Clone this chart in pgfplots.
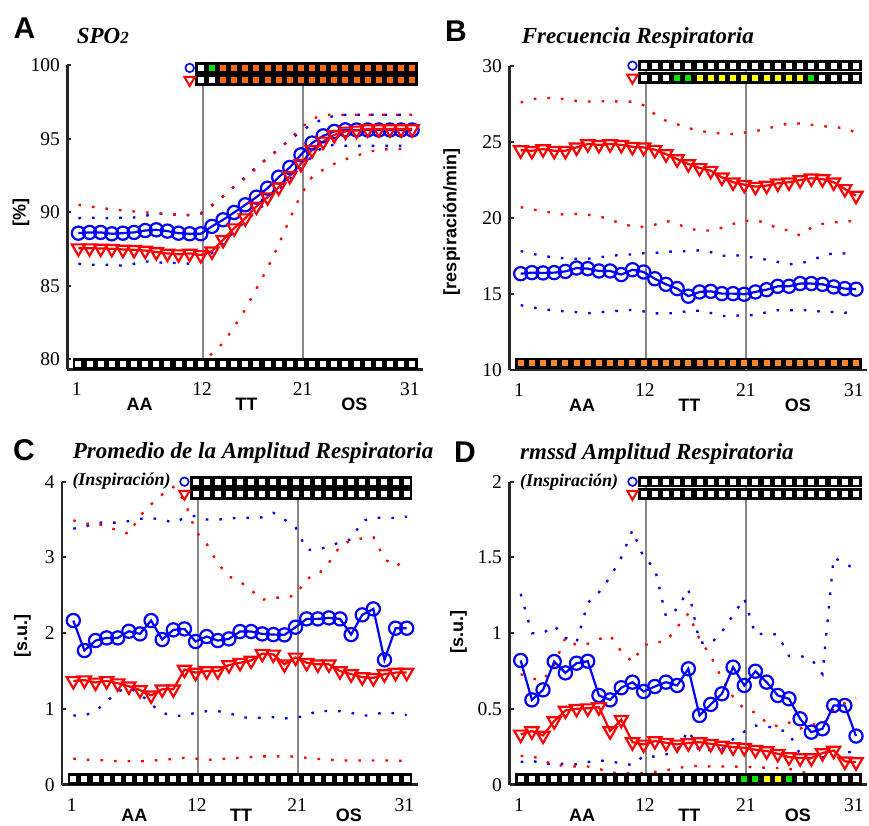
\documentclass[border=0pt]{standalone}
\usepackage{fontspec}
\setmainfont{Liberation Serif}
\newfontfamily\lsans{Liberation Sans}
\usepackage{pgfplots}
\usepackage{pgfplotstable}
\pgfplotsset{compat=1.18}
\definecolor{orng}{RGB}{255,105,10}
\definecolor{orng2}{RGB}{250,135,45}
\definecolor{grn}{RGB}{0,230,0}
\definecolor{yel}{RGB}{255,255,0}
\definecolor{axc}{RGB}{38,38,38}
\definecolor{vgray}{RGB}{135,135,135}

\pgfplotstableread{
x bm bu bl rm ru rl
1 88.58 89.60 86.50 87.56 90.51 79.55
2 88.63 89.64 86.43 87.56 90.40 79.55
3 88.63 89.60 86.43 87.54 90.28 79.55
4 88.54 89.60 86.43 87.52 90.22 79.55
5 88.58 89.64 86.36 87.47 90.12 79.55
6 88.63 89.65 86.50 87.45 90.06 79.55
7 88.76 89.76 86.66 87.40 89.99 79.55
8 88.81 89.90 86.60 87.30 89.94 79.55
9 88.72 89.90 86.55 87.20 89.90 79.55
10 88.58 89.83 86.55 87.15 89.80 79.55
11 88.54 89.80 86.50 87.20 89.83 79.55
12 88.54 89.90 86.66 87.10 89.94 79.60
13 89.04 90.50 87.22 87.35 90.44 80.40
14 89.49 91.08 87.90 88.13 91.08 81.10
15 89.99 91.76 88.70 88.92 91.76 82.20
16 90.51 92.40 89.38 89.60 92.32 83.40
17 91.03 93.07 90.06 90.40 93.00 84.80
18 91.64 93.70 90.74 91.03 93.70 86.20
19 92.39 94.30 91.53 91.70 94.25 87.80
20 93.05 94.93 92.26 92.48 94.98 89.55
21 93.91 95.50 93.00 93.30 95.73 91.20
22 94.71 96.00 93.80 94.25 96.34 92.40
23 95.20 96.34 94.48 94.82 96.63 92.90
24 95.50 96.56 94.59 95.27 96.63 93.30
25 95.61 96.63 94.52 95.50 96.63 93.60
26 95.60 96.63 94.52 95.57 96.63 93.85
27 95.60 96.63 94.52 95.66 96.63 94.10
28 95.60 96.63 94.52 95.66 96.63 94.25
29 95.60 96.63 94.52 95.66 96.63 94.30
30 95.60 96.63 94.52 95.66 96.63 94.30
31 95.60 96.63 94.52 95.66 96.63 94.37
}\dataA

\pgfplotstableread{
x bm bu bl rm ru rl
1 16.33 17.82 14.26 24.45 27.58 20.70
2 16.40 17.64 14.12 24.41 27.80 20.55
3 16.38 17.50 14.00 24.52 27.88 20.45
4 16.40 17.40 13.92 24.41 27.87 20.30
5 16.48 17.33 13.85 24.41 27.80 20.20
6 16.70 17.31 13.80 24.63 27.69 20.26
7 16.66 17.31 13.73 24.85 27.64 20.20
8 16.51 17.40 13.80 24.80 27.66 20.10
9 16.51 17.50 13.85 24.85 27.67 19.90
10 16.27 17.56 13.90 24.80 27.64 19.60
11 16.59 17.60 13.95 24.67 27.64 19.45
12 16.44 17.68 13.85 24.63 27.40 19.40
13 16.00 17.70 13.72 24.48 26.81 19.55
14 15.63 17.75 13.73 24.19 26.38 19.80
15 15.35 17.82 13.73 23.86 26.15 19.60
16 14.85 17.80 13.90 23.54 25.90 19.30
17 15.13 17.87 13.90 23.28 25.72 19.17
18 15.17 17.75 13.75 23.10 25.60 19.17
19 15.02 17.50 13.55 22.66 25.54 19.35
20 15.02 17.55 13.55 22.34 25.50 19.60
21 14.98 17.50 13.62 22.18 25.60 19.80
22 15.13 17.35 13.60 22.05 25.70 19.85
23 15.28 17.25 13.80 22.12 25.85 19.65
24 15.50 17.10 13.93 22.27 26.05 19.30
25 15.50 16.95 13.93 22.34 26.20 19.17
26 15.68 17.00 13.92 22.49 26.20 18.84
27 15.68 17.20 13.95 22.60 26.12 19.35
28 15.63 17.50 13.80 22.55 26.03 19.60
29 15.46 17.68 13.82 22.34 25.96 19.70
30 15.35 17.66 13.76 21.90 25.90 19.75
31 15.31 17.60 13.85 21.46 25.60 19.80
}\dataB

\pgfplotstableread{
x bm bu bl rm ru rl
1 2.167 3.38 0.914 1.37 3.49 0.343
2 1.771 3.40 0.914 1.38 3.44 0.330
3 1.903 3.46 0.970 1.35 3.46 0.325
4 1.938 3.46 1.100 1.37 3.40 0.320
5 1.938 3.46 1.230 1.34 3.36 0.310
6 2.026 3.48 1.280 1.30 3.31 0.310
7 1.991 3.51 1.200 1.25 3.55 0.310
8 2.167 3.52 1.060 1.18 3.70 0.315
9 1.916 3.50 0.950 1.26 3.83 0.330
10 2.044 3.46 0.910 1.26 3.93 0.340
11 2.057 3.52 0.910 1.52 3.75 0.355
12 1.890 3.55 0.950 1.48 3.35 0.345
13 1.956 3.50 0.970 1.50 3.18 0.330
14 1.903 3.50 0.970 1.50 2.92 0.330
15 1.925 3.51 0.950 1.58 2.75 0.350
16 2.022 3.53 0.890 1.61 2.68 0.355
17 2.022 3.52 0.885 1.64 2.57 0.365
18 1.991 3.53 0.885 1.73 2.44 0.374
19 1.982 3.59 0.890 1.72 2.47 0.374
20 1.978 3.50 0.875 1.59 2.47 0.374
21 2.079 3.40 0.885 1.68 2.50 0.370
22 2.189 3.10 0.910 1.61 2.72 0.355
23 2.189 3.10 0.980 1.59 2.77 0.340
24 2.202 3.15 0.970 1.59 2.93 0.330
25 2.189 3.20 0.970 1.50 3.15 0.320
26 1.982 3.24 0.950 1.46 3.23 0.320
27 2.242 3.48 0.910 1.42 3.25 0.320
28 2.321 3.53 0.920 1.41 3.27 0.320
29 1.648 3.52 0.960 1.46 2.98 0.320
30 2.066 3.52 0.940 1.48 2.88 0.320
31 2.066 3.54 0.920 1.48 2.98 0.310
}\dataC

\pgfplotstableread{
x bm bu bl rm ru rl
1 0.820 1.26 0.150 0.332 0.73 0.19
2 0.560 1.00 0.160 0.354 0.70 0.19
3 0.626 1.00 0.135 0.325 0.69 0.16
4 0.813 1.05 0.140 0.420 0.79 0.13
5 0.738 0.97 0.138 0.490 0.97 0.125
6 0.802 0.94 0.135 0.501 0.92 0.12
7 0.815 1.20 0.150 0.505 0.93 0.12
8 0.589 1.27 0.160 0.512 0.96 0.105
9 0.560 1.37 0.155 0.354 0.985 0.08
10 0.640 1.50 0.140 0.429 0.88 0.077
11 0.677 1.68 0.130 0.281 0.81 0.077
12 0.615 1.50 0.190 0.266 0.92 0.077
13 0.648 1.43 0.185 0.288 0.94 0.085
14 0.677 1.11 0.200 0.277 0.945 0.095
15 0.655 1.16 0.230 0.266 1.04 0.11
16 0.765 1.29 0.360 0.275 1.13 0.12
17 0.457 0.94 0.220 0.281 0.96 0.125
18 0.530 0.93 0.230 0.270 0.85 0.12
19 0.600 1.01 0.235 0.259 0.70 0.12
20 0.776 1.12 0.300 0.248 0.58 0.12
21 0.655 1.23 0.350 0.244 0.50 0.118
22 0.749 0.99 0.390 0.231 0.475 0.115
23 0.677 1.00 0.385 0.222 0.41 0.112
24 0.589 0.99 0.370 0.204 0.385 0.11
25 0.567 0.85 0.340 0.182 0.41 0.105
26 0.435 0.85 0.200 0.176 0.37 0.09
27 0.347 0.83 0.170 0.176 0.40 0.065
28 0.369 0.73 0.180 0.209 0.39 0.055
29 0.523 1.50 0.200 0.226 0.50 0.05
30 0.523 1.46 0.210 0.154 0.54 0.05
31 0.321 1.42 0.222 0.149 0.57 0.06
}\dataD

\pgfplotsset{
  panel/.style={
    scale only axis, clip=false,
    xmin=0, xmax=32,
    axis x line*=bottom, axis y line*=left,
    axis line style={-, draw=axc, line width=2.5pt},
    xtick={0.85,12.12,21.15,30.8}, xticklabels={1,12,21,31},
    xtick style={draw=none},
    tick align=inside, major tick length=4pt,
    ytick style={draw=axc, line width=2pt},
    tick label style={font=\fontsize{19.5}{20}\selectfont},
    xticklabel style={yshift=-10pt},
    yticklabel style={xshift=-4pt},
    /pgf/number format/assume math mode=true,
  },
  bdot/.style={blue, line width=2.3pt, dash pattern=on 2.6pt off 11pt, no markers},
  rdot/.style={red, line width=2.3pt, dash pattern=on 2.6pt off 11pt, no markers},
  bmean/.style={blue, line width=2.2pt, mark=o, mark size=6.6pt, mark options={solid}},
  rmean/.style={red, line width=2.2pt, mark=triangle, mark size=7.6pt, mark options={solid, rotate=180}},
  sq/.style={only marks, mark=square*, mark size=4.4pt, mark options={solid, draw=black, line width=2.8pt, fill=#1}},
  vline/.style={vgray, line width=2pt, no markers},
  legc/.style={only marks, blue, mark=o, mark size=4.3pt, line width=1.6pt},
  legt/.style={only marks, red, mark=triangle, mark size=6pt, line width=2pt, mark options={rotate=180}},
}
\newcommand{\xlab}[2]{%
  \node[inner sep=0pt, font=\lsans\bfseries\fontsize{18}{18}\selectfont] at (axis cs:6.5,#1) [yshift=-#2] {AA};
  \node[inner sep=0pt, font=\lsans\bfseries\fontsize{18}{18}\selectfont] at (axis cs:16.1,#1) [yshift=-#2] {TT};
  \node[inner sep=0pt, font=\lsans\bfseries\fontsize{18}{18}\selectfont] at (axis cs:25.8,#1) [yshift=-#2] {OS};
}

\begin{document}
\begin{tikzpicture}[x=1pt,y=1pt]
\path[use as bounding box] (0,0) rectangle (869,825);

% ---------------- A ----------------
\begin{axis}[panel, at={(67.3pt,455.7pt)}, anchor=south west,
  width=356pt, height=304pt, ymin=79.32, ymax=100,
  ytick={80,85,90,95,100}]
\addplot[vline] coordinates {(12.18,79.32) (12.18,100)};
\addplot[vline] coordinates {(21.17,79.32) (21.17,100)};
\addplot[bdot] table[x=x,y=bu] {\dataA};
\addplot[bdot] table[x=x,y=bl] {\dataA};
\addplot[rdot] table[x=x,y=ru] {\dataA};
\addplot[rdot] table[x=x,y=rl] {\dataA};
\addplot[bmean] table[x=x,y=bm] {\dataA};
\addplot[rmean] table[x=x,y=rm] {\dataA};
\addplot[sq=white] coordinates {(12,99.82)};
\addplot[sq=grn] coordinates {(13,99.82)};
\addplot[sq=orng] coordinates {(14,99.82)(15,99.82)(16,99.82)(17,99.82)(18,99.82)(19,99.82)(20,99.82)(21,99.82)(22,99.82)(23,99.82)(24,99.82)(25,99.82)(26,99.82)(27,99.82)(28,99.82)(29,99.82)(30,99.82)(31,99.82)};
\addplot[sq=white] coordinates {(12,99.0)(13,99.0)};
\addplot[sq=orng] coordinates {(14,99.0)(15,99.0)(16,99.0)(17,99.0)(18,99.0)(19,99.0)(20,99.0)(21,99.0)(22,99.0)(23,99.0)(24,99.0)(25,99.0)(26,99.0)(27,99.0)(28,99.0)(29,99.0)(30,99.0)(31,99.0)};
\addplot[sq=white] coordinates {(1,79.69)(2,79.69)(3,79.69)(4,79.69)(5,79.69)(6,79.69)(7,79.69)(8,79.69)(9,79.69)(10,79.69)(11,79.69)(12,79.69)(13,79.69)(14,79.69)(15,79.69)(16,79.69)(17,79.69)(18,79.69)(19,79.69)(20,79.69)(21,79.69)(22,79.69)(23,79.69)(24,79.69)(25,79.69)(26,79.69)(27,79.69)(28,79.69)(29,79.69)(30,79.69)(31,79.69)};
\addplot[legc] coordinates {(11,99.82)};
\addplot[legt] coordinates {(11,99.0)};
\xlab{79.32}{35pt}
\end{axis}

% ---------------- B ----------------
\begin{axis}[panel, at={(509.5pt,455pt)}, anchor=south west,
  width=357.7pt, height=304.3pt, ymin=10, ymax=30,
  ytick={10,15,20,25,30}]
\addplot[vline] coordinates {(12.18,10) (12.18,30)};
\addplot[vline] coordinates {(21.17,10) (21.17,30)};
\addplot[bdot] table[x=x,y=bu] {\dataB};
\addplot[bdot] table[x=x,y=bl] {\dataB};
\addplot[rdot] table[x=x,y=ru] {\dataB};
\addplot[rdot] table[x=x,y=rl] {\dataB};
\addplot[bmean] table[x=x,y=bm] {\dataB};
\addplot[rmean] table[x=x,y=rm] {\dataB};
\addplot[sq=white] coordinates {(12,30)(13,30)(14,30)(15,30)(16,30)(17,30)(18,30)(19,30)(20,30)(21,30)(22,30)(23,30)(24,30)(25,30)(26,30)(27,30)(28,30)(29,30)(30,30)(31,30)};
\addplot[sq=white] coordinates {(12,29.21)(13,29.21)(14,29.21)(28,29.21)(29,29.21)(30,29.21)(31,29.21)};
\addplot[sq=grn] coordinates {(15,29.21)(16,29.21)(27,29.21)};
\addplot[sq=yel] coordinates {(17,29.21)(18,29.21)(19,29.21)(20,29.21)(21,29.21)(22,29.21)(23,29.21)(24,29.21)(25,29.21)(26,29.21)};
\addplot[sq=orng2] coordinates {(1,10.44)(2,10.44)(3,10.44)(4,10.44)(5,10.44)(6,10.44)(7,10.44)(8,10.44)(9,10.44)(10,10.44)(11,10.44)(12,10.44)(13,10.44)(14,10.44)(15,10.44)(16,10.44)(17,10.44)(18,10.44)(19,10.44)(20,10.44)(21,10.44)(22,10.44)(23,10.44)(24,10.44)(25,10.44)(26,10.44)(27,10.44)(28,10.44)(29,10.44)(30,10.44)(31,10.44)};
\addplot[legc] coordinates {(11,30)};
\addplot[legt] coordinates {(11,29.21)};
\xlab{10}{35pt}
\end{axis}

% ---------------- C ----------------
\begin{axis}[panel, at={(62.2pt,40.3pt)}, anchor=south west,
  width=355.6pt, height=303pt, ymin=0, ymax=4,
  ytick={0,1,2,3,4}]
\addplot[vline] coordinates {(12.2,0) (12.2,4)};
\addplot[vline] coordinates {(21.2,0) (21.2,4)};
\addplot[bdot] table[x=x,y=bu] {\dataC};
\addplot[bdot] table[x=x,y=bl] {\dataC};
\addplot[rdot] table[x=x,y=ru] {\dataC};
\addplot[rdot] table[x=x,y=rl] {\dataC};
\addplot[bmean] table[x=x,y=bm] {\dataC};
\addplot[rmean] table[x=x,y=rm] {\dataC};
\addplot[sq=white] coordinates {(12,4)(13,4)(14,4)(15,4)(16,4)(17,4)(18,4)(19,4)(20,4)(21,4)(22,4)(23,4)(24,4)(25,4)(26,4)(27,4)(28,4)(29,4)(30,4)(31,4)};
\addplot[sq=white] coordinates {(12,3.84)(13,3.84)(14,3.84)(15,3.84)(16,3.84)(17,3.84)(18,3.84)(19,3.84)(20,3.84)(21,3.84)(22,3.84)(23,3.84)(24,3.84)(25,3.84)(26,3.84)(27,3.84)(28,3.84)(29,3.84)(30,3.84)(31,3.84)};
\addplot[sq=white] coordinates {(1,0.075)(2,0.075)(3,0.075)(4,0.075)(5,0.075)(6,0.075)(7,0.075)(8,0.075)(9,0.075)(10,0.075)(11,0.075)(12,0.075)(13,0.075)(14,0.075)(15,0.075)(16,0.075)(17,0.075)(18,0.075)(19,0.075)(20,0.075)(21,0.075)(22,0.075)(23,0.075)(24,0.075)(25,0.075)(26,0.075)(27,0.075)(28,0.075)(29,0.075)(30,0.075)(31,0.075)};
\addplot[legc] coordinates {(11,4)};
\addplot[legt] coordinates {(11,3.84)};
\xlab{0}{31pt}
\end{axis}

% ---------------- D ----------------
\begin{axis}[panel, at={(509.5pt,40.3pt)}, anchor=south west,
  width=357.7pt, height=303pt, ymin=0, ymax=2,
  ytick={0,0.5,1,1.5,2}]
\addplot[vline] coordinates {(12.18,0) (12.18,2)};
\addplot[vline] coordinates {(21.17,0) (21.17,2)};
\addplot[bdot] table[x=x,y=bu] {\dataD};
\addplot[bdot] table[x=x,y=bl] {\dataD};
\addplot[rdot] table[x=x,y=ru] {\dataD};
\addplot[rdot] table[x=x,y=rl] {\dataD};
\addplot[bmean] table[x=x,y=bm] {\dataD};
\addplot[rmean] table[x=x,y=rm] {\dataD};
\addplot[sq=white] coordinates {(12,2)(13,2)(14,2)(15,2)(16,2)(17,2)(18,2)(19,2)(20,2)(21,2)(22,2)(23,2)(24,2)(25,2)(26,2)(27,2)(28,2)(29,2)(30,2)(31,2)};
\addplot[sq=white] coordinates {(12,1.92)(13,1.92)(14,1.92)(15,1.92)(16,1.92)(17,1.92)(18,1.92)(19,1.92)(20,1.92)(21,1.92)(22,1.92)(23,1.92)(24,1.92)(25,1.92)(26,1.92)(27,1.92)(28,1.92)(29,1.92)(30,1.92)(31,1.92)};
\addplot[sq=white] coordinates {(1,0.038)(2,0.038)(3,0.038)(4,0.038)(5,0.038)(6,0.038)(7,0.038)(8,0.038)(9,0.038)(10,0.038)(11,0.038)(12,0.038)(13,0.038)(14,0.038)(15,0.038)(16,0.038)(17,0.038)(18,0.038)(19,0.038)(20,0.038)(26,0.038)(27,0.038)(28,0.038)(29,0.038)(30,0.038)(31,0.038)};
\addplot[sq=grn] coordinates {(21,0.038)(22,0.038)(25,0.038)};
\addplot[sq=yel] coordinates {(23,0.038)(24,0.038)};
\addplot[legc] coordinates {(11,2)};
\addplot[legt] coordinates {(11,1.92)};
\xlab{0}{31pt}
\end{axis}

% ---------------- texts ----------------
\node[font=\lsans\bfseries\fontsize{30}{30}\selectfont] at (24.5,797) {A};
\node[font=\lsans\bfseries\fontsize{30}{30}\selectfont] at (456,794) {B};
\node[font=\lsans\bfseries\fontsize{30}{30}\selectfont] at (24,375) {C};
\node[font=\lsans\bfseries\fontsize{30}{30}\selectfont] at (465,373) {D};

\node[anchor=base west, font=\bfseries\itshape\fontsize{23}{24}\selectfont, inner sep=0pt] at (76.7,781.7) {SPO{\fontsize{17}{17}\selectfont 2}};
\node[anchor=base west, font=\bfseries\itshape\fontsize{23}{24}\selectfont, inner sep=0pt] at (521.7,781.7) {Frecuencia Respiratoria};
\node[anchor=base west, font=\bfseries\itshape\fontsize{23}{24}\selectfont, inner sep=0pt] at (72.7,366) {Promedio de la Amplitud Respiratoria};
\node[anchor=base west, font=\bfseries\itshape\fontsize{23}{24}\selectfont, inner sep=0pt] at (520,365) {rmssd Amplitud Respiratoria};
\node[anchor=base west, font=\bfseries\itshape\fontsize{18}{18}\selectfont, inner sep=0pt] at (72.3,339) {(Inspiración)};
\node[anchor=base west, font=\bfseries\itshape\fontsize{18}{18}\selectfont, inner sep=0pt] at (520,338) {(Inspiración)};

\node[rotate=90, font=\lsans\bfseries\fontsize{18}{18}\selectfont] at (21,612) {[\%]};
\node[rotate=90, font=\lsans\bfseries\fontsize{18}{18}\selectfont] at (451.7,603) {[respiración/min]};
\node[rotate=90, font=\lsans\bfseries\fontsize{18}{18}\selectfont] at (22.5,189) {[s.u.]};
\node[rotate=90, font=\lsans\bfseries\fontsize{18}{18}\selectfont] at (458.5,193) {[s.u.]};
\end{tikzpicture}
\end{document}
